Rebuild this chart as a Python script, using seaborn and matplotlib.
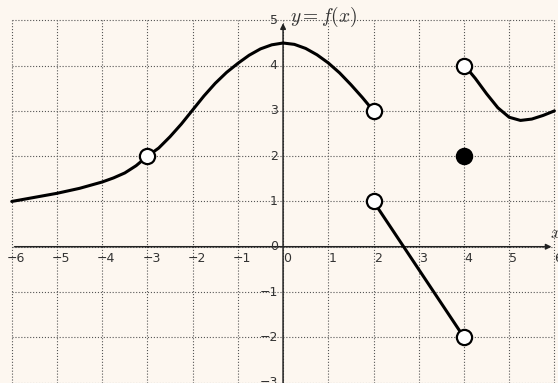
import numpy as np
import pandas as pd
import seaborn as sns
import matplotlib.pyplot as plt

# pieces of the graph of f
left_x = [-6, -5.5, -5, -4.5, -4, -3.75, -3.5, -3.25, -3]
left_y = [1.0, 1.09, 1.18, 1.29, 1.43, 1.52, 1.63, 1.79, 2.0]

mid_x = [-3, -2.75, -2.5, -2.25, -2, -1.75, -1.5, -1.25, -1, -0.75, -0.5, -0.25,
         0, 0.25, 0.5, 0.75, 1, 1.25, 1.5, 1.75, 2]
mid_y = [2.0, 2.18, 2.43, 2.71, 3.02, 3.33, 3.61, 3.85, 4.05, 4.23, 4.37, 4.46,
         4.5, 4.47, 4.38, 4.24, 4.06, 3.84, 3.58, 3.3, 3.0]

seg_x = [2, 4]
seg_y = [1, -2]

right_x = [4, 4.125, 4.25, 4.5, 4.75, 5, 5.25, 5.5, 5.75, 6]
right_y = [4.0, 3.87, 3.72, 3.38, 3.07, 2.86, 2.79, 2.82, 2.9, 3.0]

open_x = [-3, 2, 2, 4, 4]
open_y = [2, 3, 1, -2, 4]
closed_x = [4]
closed_y = [2]

x_ticks = list(range(-6, 7))
y_ticks = list(range(-3, 6))

bg = '#fdf7f0'
sns.set_style('white', {'axes.facecolor': bg, 'figure.facecolor': bg})
plt.rcParams['mathtext.fontset'] = 'cm'

fig = plt.figure(figsize=(5.58, 3.83), dpi=100)
ax = fig.add_axes([0, 0, 1, 1])

# dotted grid, only inside the box
ax.hlines(y_ticks, -6, 6, colors='#555555', linestyles=':', linewidth=0.8, zorder=1)
ax.vlines(x_ticks, -3, 5, colors='#555555', linestyles=':', linewidth=0.8, zorder=1)

# axes with arrows
ax.annotate('', xy=(6, 0), xytext=(-6, 0),
            arrowprops=dict(arrowstyle='-|>', color='#222222', lw=1.1, mutation_scale=8), zorder=2)
ax.annotate('', xy=(0, 5), xytext=(0, -3.1),
            arrowprops=dict(arrowstyle='-|>', color='#222222', lw=1.1, mutation_scale=8), zorder=2)

for xs, ys in [(left_x, left_y), (mid_x, mid_y), (seg_x, seg_y), (right_x, right_y)]:
    df = pd.DataFrame({'x': xs, 'y': ys})
    sns.lineplot(data=df, x='x', y='y', sort=False, color='black', linewidth=2.2,
                 solid_joinstyle='round', ax=ax, zorder=3)

sns.scatterplot(x=open_x, y=open_y, s=120, color='white', edgecolor='black',
                linewidth=1.6, ax=ax, zorder=4)
sns.scatterplot(x=closed_x, y=closed_y, s=120, color='black', edgecolor='black',
                linewidth=1.6, ax=ax, zorder=4)

# tick labels
for t in x_ticks:
    ax.text(t + 0.09, -0.27, '−' + str(-t) if t < 0 else str(t), ha='center', va='center',
            fontsize=9, color='#333333', zorder=5)
for t in y_ticks:
    ax.text(-0.12, t, '−' + str(-t) if t < 0 else str(t), ha='right', va='center',
            fontsize=9, color='#333333', zorder=5)

ax.text(0.15, 5.07, r'$y=f(x)$', fontsize=14, color='#333333', ha='left', va='center')
ax.text(5.9, 0.3, r'$x$', fontsize=13, color='#333333', ha='left', va='center')

ax.set_xlim(-6.26, 6.08)
ax.set_ylim(-3.01, 5.45)
ax.set_axis_off()

fig.savefig('out.png', dpi=100, facecolor=bg)
